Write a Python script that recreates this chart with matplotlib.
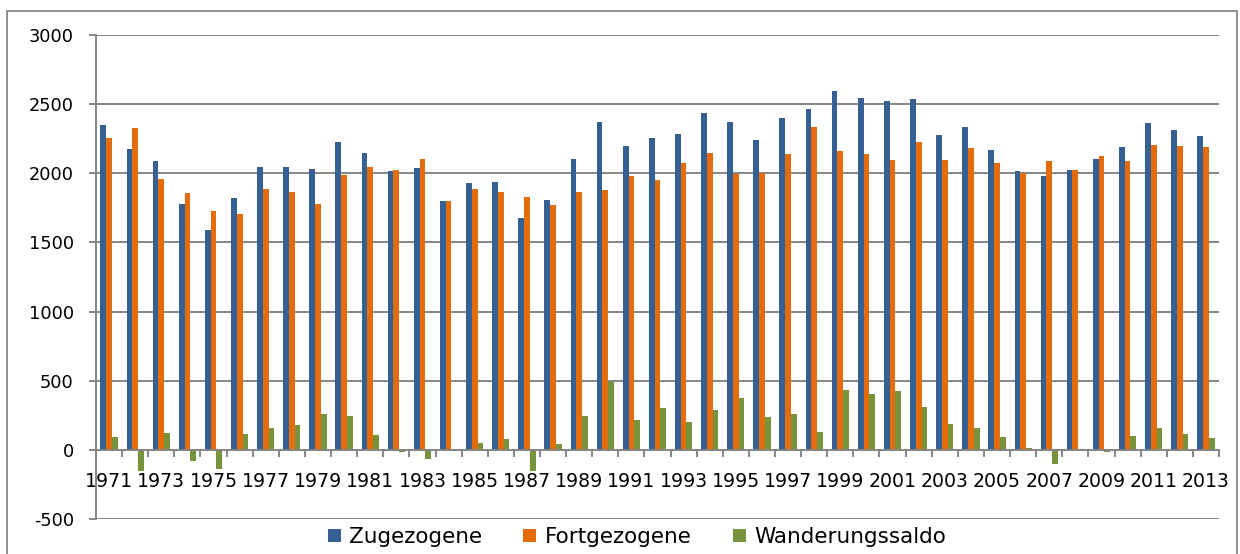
import numpy as np
import matplotlib.pyplot as plt
from matplotlib.patches import Rectangle
from matplotlib.ticker import FixedLocator, NullFormatter, FixedFormatter

years = list(range(1971, 2014))

# Zugezogene (in-migration)
zugezogene = [2348, 2174, 2087, 1775, 1587, 1819, 2043, 2048, 2031, 2229,
              2150, 2014, 2041, 1800, 1932, 1940, 1679, 1807, 2101, 2372,
              2196, 2258, 2283, 2437, 2372, 2239, 2401, 2466, 2592, 2541,
              2522, 2534, 2280, 2336, 2167, 2014, 1983, 2024, 2106, 2188,
              2362, 2314, 2273]
# Fortgezogene (out-migration)
fortgezogene = [2254, 2331, 1961, 1855, 1727, 1703, 1889, 1867, 1775, 1986,
                2046, 2027, 2106, 1800, 1884, 1862, 1829, 1768, 1862, 1881,
                1981, 1954, 2077, 2150, 1998, 2005, 2142, 2338, 2162, 2138,
                2097, 2227, 2094, 2181, 2075, 2005, 2087, 2022, 2123, 2087,
                2208, 2196, 2188]
# Wanderungssaldo (net)
saldo = [96, -152, 123, -77, -142, 113, 157, 179, 258, 246,
         106, -12, -63, 0, 48, 77, -150, 41, 242, 493,
         217, 302, 203, 290, 374, 239, 256, 128, 430, 406,
         425, 307, 188, 159, 94, 14, -101, 2, -14, 99,
         157, 116, 87]

labels = ['Zugezogene', 'Fortgezogene', 'Wanderungssaldo']
colors = ['#376092', '#E46C0A', '#77933C']

plt.rcParams['font.family'] = ['DejaVu Sans']
plt.rcParams['axes.unicode_minus'] = False

fig = plt.figure(figsize=(12.4, 5.54), dpi=100)
ax = fig.add_axes([96/1240, 1-519/554, (1219-96)/1240, (519-35)/554])

x = np.arange(len(years))
w = 0.22
series = [zugezogene, fortgezogene, saldo]
handles = []
for i, (vals, c, lab) in enumerate(zip(series, colors, labels)):
    b = ax.bar(x + (i-1)*w, vals, w, color=c, label=lab, zorder=3)
    handles.append(b)

ax.set_xlim(-0.5, len(years)-0.5)
ax.set_ylim(-500, 3000)
ax.set_yticks(range(-500, 3001, 500))
ax.yaxis.grid(True, color='#868686', linewidth=1.4, zorder=1)
for sp in ['top', 'right']:
    ax.spines[sp].set_visible(False)
ax.spines['bottom'].set_position(('data', 0))
ax.spines['bottom'].set_color('#868686')
ax.spines['bottom'].set_linewidth(1.4)
ax.spines['bottom'].set_zorder(4)
ax.spines['left'].set_color('#868686')
ax.spines['left'].set_linewidth(1.4)

# tick marks at category boundaries, labels on every second year
ax.xaxis.set_major_locator(FixedLocator(np.arange(-0.5, len(years), 1.0)))
ax.xaxis.set_major_formatter(NullFormatter())
ax.xaxis.set_minor_locator(FixedLocator(x[::2]))
ax.xaxis.set_minor_formatter(FixedFormatter([str(y) for y in years[::2]]))
ax.tick_params(axis='x', which='major', direction='out', length=5,
               width=1.4, color='#868686')
ax.tick_params(axis='x', which='minor', length=0, pad=16, labelsize=13.6)
ax.tick_params(axis='y', direction='out', length=5, width=1.4,
               color='#868686', pad=11, labelsize=12.8)

fig.legend(handles, labels, loc='center', bbox_to_anchor=(637/1240, 1-537/554),
           ncol=3, frameon=False, fontsize=15.5, handlelength=0.6,
           handleheight=0.6, handletextpad=0.4, columnspacing=1.9)

fig.patches.append(Rectangle((7/1240, -0.1), (1237-7)/1240, 1.1-11/554,
                             transform=fig.transFigure, fill=False,
                             edgecolor='#868686', linewidth=1.3))

fig.savefig('out.png', dpi=100)
